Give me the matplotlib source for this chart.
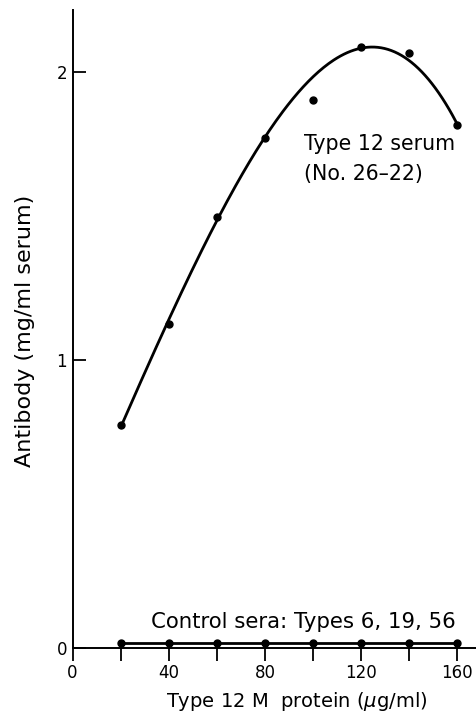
import numpy as np
import matplotlib
matplotlib.use("Agg")
from matplotlib import pyplot as plt

# M protein concentration (ug/ml)
conc = [20, 40, 60, 80, 100, 120, 140, 160]
# antibody, type 12 serum (No. 26-22)
type12 = [0.773, 1.123, 1.497, 1.769, 1.904, 2.087, 2.067, 1.817]
# control sera: types 6, 19, 56
control = [0.016, 0.016, 0.016, 0.016, 0.016, 0.016, 0.016, 0.016]

# hand drawn curve through the type 12 points
curve_x = [20, 30, 40, 50, 60, 70, 80, 90, 100, 110, 120, 130, 140, 150, 160]
curve_y = [0.773, 0.95, 1.123, 1.31, 1.497, 1.65, 1.78, 1.89, 1.97, 2.035,
           2.076, 2.085, 2.067, 1.94, 1.817]

xticks = [0, 20, 40, 60, 80, 100, 120, 140, 160]
xlabels = ['0', '', '40', '', '80', '', '120', '', '160']
yticks = [0, 1, 2]

plt.rcParams['font.family'] = ['DejaVu Sans']

fig = plt.figure(figsize=(4.77, 7.17), dpi=100)
ax = fig.add_axes([0.152, 0.0967, 0.848, 0.8893])

coef = np.polyfit(curve_x, curve_y, 4)
xs = np.linspace(curve_x[0], curve_x[-1], 200)
ax.plot(xs, np.polyval(coef, xs), color='black', lw=2.0)
ax.plot(conc, type12, 'o', color='black', ms=5)

ax.plot(conc, control, '-o', color='black', lw=2.0, ms=5, clip_on=False)

ax.set_xlim(0, 168.2)
ax.set_ylim(0, 2.215)
ax.set_xticks(xticks)
ax.set_xticklabels(xlabels)
ax.set_yticks(yticks)
ax.tick_params(axis='x', direction='out', length=9, width=1.3, labelsize=12, pad=3)
ax.tick_params(axis='y', direction='in', length=9, width=1.3, labelsize=12, pad=4)
for s in ['top', 'right']:
    ax.spines[s].set_visible(False)
for s in ['left', 'bottom']:
    ax.spines[s].set_linewidth(1.4)

ax.set_xlabel('Type 12 M  protein ($\\mu$g/ml)', fontsize=14)
ax.xaxis.set_label_coords(0.555, -0.066)
ax.set_ylabel('Antibody (mg/ml serum)', fontsize=16)
ax.yaxis.set_label_coords(-0.093, 0.497)

ax.text(96.2, 1.728, 'Type 12 serum', fontsize=14.8)
ax.text(96.2, 1.624, '(No. 26\u201322)', fontsize=14.8)
ax.text(32.8, 0.069, 'Control sera: Types 6, 19, 56', fontsize=15.3)

fig.savefig('out.png', dpi=100)
